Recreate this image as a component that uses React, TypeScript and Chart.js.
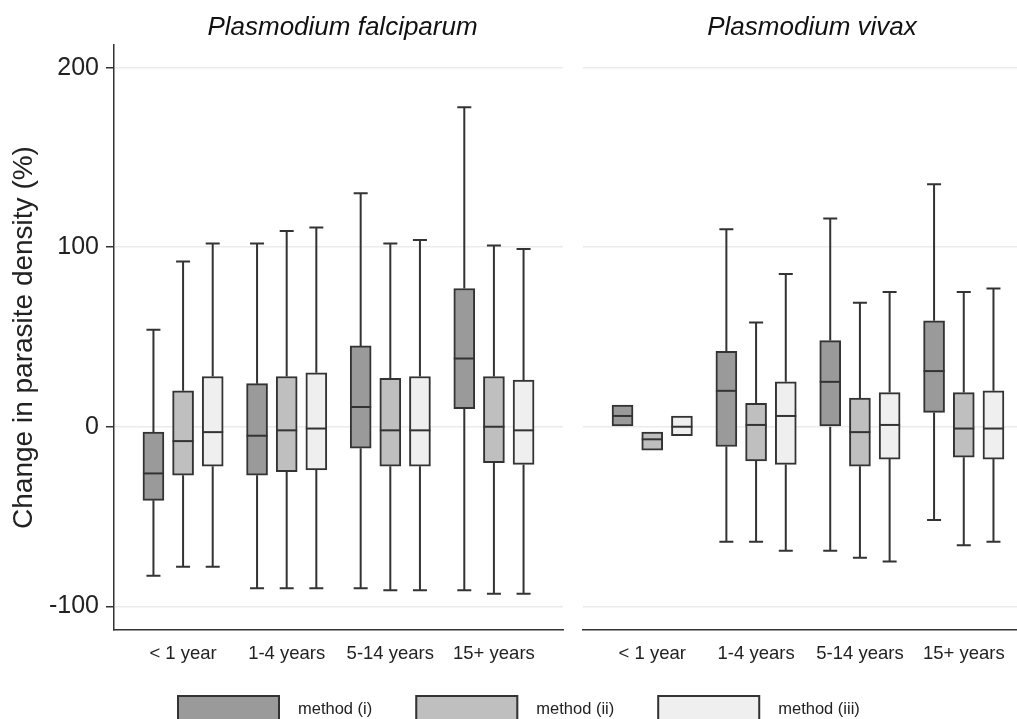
import React, { useEffect, useRef } from "react";
import { Chart, registerables } from "chart.js";

Chart.register(...registerables);

// ---------- data ----------
const categories = ["< 1 year", "1-4 years", "5-14 years", "15+ years"];
const methodLabels = ["method (i)", "method (ii)", "method (iii)"];
const methodFills = ["#9a9a9a", "#bfbfbf", "#efefef"];
const panelTitles = ["Plasmodium falciparum", "Plasmodium vivax"];
const yTickValues = [-100, 0, 100, 200];
const methodOffsets = [-0.286, 0, 0.286];

// Plasmodium falciparum: rows = method (i), (ii), (iii); columns = age groups
const pfLow = [
  [-83, -90, -90, -91],
  [-78, -90, -91, -93],
  [-78, -90, -91, -93],
];
const pfQ1 = [
  [-41, -27, -12, 10],
  [-27, -25, -22, -20],
  [-22, -24, -22, -21],
];
const pfMedian = [
  [-26, -5, 11, 38],
  [-8, -2, -2, 0],
  [-3, -1, -2, -2],
];
const pfQ3 = [
  [-3, 24, 45, 77],
  [20, 28, 27, 28],
  [28, 30, 28, 26],
];
const pfHigh = [
  [54, 102, 130, 178],
  [92, 109, 102, 101],
  [102, 111, 104, 99],
];

// Plasmodium vivax
const pvLow = [
  [0, -64, -69, -52],
  [-13, -64, -73, -66],
  [-5, -69, -75, -64],
];
const pvQ1 = [
  [0, -11, 0, 8],
  [-13, -19, -22, -17],
  [-5, -21, -18, -18],
];
const pvMedian = [
  [6, 20, 25, 31],
  [-7, 1, -3, -1],
  [0, 6, 1, -1],
];
const pvQ3 = [
  [12, 42, 48, 59],
  [-3, 13, 16, 19],
  [6, 25, 19, 20],
];
const pvHigh = [
  [12, 110, 116, 135],
  [-3, 58, 69, 75],
  [6, 85, 75, 77],
];

const Y_MIN = -113.2;
const Y_MAX = 212.6;
const X_MIN = 1 / 3;
const X_MAX = categories.length + 2 / 3;

const FONT = "'Liberation Sans', Arial, Helvetica, sans-serif";
const INK = "#333333";

Chart.defaults.font.family = FONT;
Chart.defaults.color = "#222222";

type Panel = {
  title: string;
  low: number[][];
  q1: number[][];
  median: number[][];
  q3: number[][];
  high: number[][];
};

const panels: Panel[] = [
  { title: panelTitles[0], low: pfLow, q1: pfQ1, median: pfMedian, q3: pfQ3, high: pfHigh },
  { title: panelTitles[1], low: pvLow, q1: pvQ1, median: pvMedian, q3: pvQ3, high: pvHigh },
];

function makeDatasets(p: Panel) {
  return methodLabels.map((label, di) => ({
    label,
    data: categories.map((_, ci) => ({
      x: ci + 1 + methodOffsets[di],
      y: [p.q1[di][ci], p.q3[di][ci]],
    })),
    backgroundColor: methodFills[di],
    borderColor: INK,
    borderWidth: 2,
    borderSkipped: false,
    grouped: false,
    barPercentage: 1,
    categoryPercentage: 1,
    maxBarThickness: 21,
  }));
}

function makeBoxPlugin(p: Panel) {
  return {
    id: "boxWhiskers",
    beforeDatasetsDraw(chart: any) {
      const ctx = chart.ctx;
      const ys = chart.scales.y;
      chart.data.datasets.forEach((_: any, di: number) => {
        const meta = chart.getDatasetMeta(di);
        meta.data.forEach((bar: any, ci: number) => {
          const lo = p.low[di][ci];
          const hi = p.high[di][ci];
          const q1 = p.q1[di][ci];
          const q3 = p.q3[di][ci];
          const cap = bar.width / 3;
          ctx.save();
          ctx.strokeStyle = INK;
          ctx.lineWidth = 2;
          ctx.beginPath();
          if (hi > q3) {
            const yh = ys.getPixelForValue(hi);
            ctx.moveTo(bar.x, ys.getPixelForValue(q3));
            ctx.lineTo(bar.x, yh);
            ctx.moveTo(bar.x - cap, yh);
            ctx.lineTo(bar.x + cap, yh);
          }
          if (lo < q1) {
            const yl = ys.getPixelForValue(lo);
            ctx.moveTo(bar.x, ys.getPixelForValue(q1));
            ctx.lineTo(bar.x, yl);
            ctx.moveTo(bar.x - cap, yl);
            ctx.lineTo(bar.x + cap, yl);
          }
          ctx.stroke();
          ctx.restore();
        });
      });
    },
    afterDatasetsDraw(chart: any) {
      const ctx = chart.ctx;
      const ys = chart.scales.y;
      chart.data.datasets.forEach((_: any, di: number) => {
        const meta = chart.getDatasetMeta(di);
        meta.data.forEach((bar: any, ci: number) => {
          const ym = ys.getPixelForValue(p.median[di][ci]);
          ctx.save();
          ctx.strokeStyle = INK;
          ctx.lineWidth = 2;
          ctx.beginPath();
          ctx.moveTo(bar.x - bar.width / 2, ym);
          ctx.lineTo(bar.x + bar.width / 2, ym);
          ctx.stroke();
          ctx.restore();
        });
      });
    },
    afterDraw(chart: any) {
      const ctx = chart.ctx;
      const a = chart.chartArea;
      ctx.save();
      ctx.fillStyle = "#111111";
      ctx.font = `italic 26px ${FONT}`;
      ctx.textAlign = "center";
      ctx.textBaseline = "middle";
      ctx.fillText(p.title, (a.left + a.right) / 2 + 4, 28);
      ctx.restore();
    },
  };
}

const legendPlugin = {
  id: "bottomLegend",
  afterDraw(chart: any) {
    const ctx = chart.ctx;
    let x = 177;
    const top = 695;
    const boxW = 103;
    const boxH = 32;
    ctx.save();
    ctx.font = `16.5px ${FONT}`;
    ctx.textBaseline = "middle";
    ctx.textAlign = "left";
    chart.data.datasets.forEach((ds: any) => {
      ctx.fillStyle = ds.backgroundColor;
      ctx.fillRect(x, top, boxW, boxH);
      ctx.strokeStyle = INK;
      ctx.lineWidth = 2;
      ctx.strokeRect(x + 1, top + 1, boxW - 2, boxH);
      const tx = x + boxW + 18;
      ctx.fillStyle = "#222222";
      ctx.fillText(ds.label, tx, 709);
      x = tx + ctx.measureText(ds.label).width + 43;
    });
    ctx.restore();
  },
};

function makeOptions(isLeft: boolean, padding: any) {
  const tickPositions = categories.map((_, i) => i + 1);
  return {
    responsive: false,
    animation: false as const,
    devicePixelRatio: 1,
    layout: { padding },
    plugins: {
      legend: { display: false },
      tooltip: { enabled: false },
      title: { display: false },
    },
    scales: {
      x: {
        type: "linear" as const,
        min: X_MIN,
        max: X_MAX,
        offset: false,
        grid: { display: false, offset: false },
        border: { display: true, color: INK, width: 1.5 },
        afterBuildTicks: (scale: any) => {
          scale.ticks = tickPositions.map((v) => ({ value: v }));
        },
        afterFit: (scale: any) => {
          scale.height = 40;
        },
        ticks: {
          autoSkip: false,
          maxRotation: 0,
          padding: 5,
          color: "#222222",
          font: { size: 18.5, family: FONT },
          callback: (v: any) => categories[Math.round(Number(v)) - 1] ?? "",
        },
      },
      y: {
        type: "linear" as const,
        min: Y_MIN,
        max: Y_MAX,
        afterBuildTicks: (scale: any) => {
          scale.ticks = yTickValues.map((v) => ({ value: v }));
        },
        afterFit: (scale: any) => {
          scale.width = isLeft ? 114 : 0;
        },
        grid: {
          color: "#ebebeb",
          lineWidth: 1.5,
          drawTicks: isLeft,
          tickLength: 8,
          tickColor: INK,
          tickWidth: 1.5,
        },
        border: { display: isLeft, color: INK, width: 1.5 },
        ticks: {
          display: isLeft,
          padding: 7,
          color: "#222222",
          font: { size: 25, family: FONT },
          callback: (v: any) => String(v),
        },
        title: {
          display: isLeft,
          text: "Change in parasite density (%)",
          color: "#222222",
          font: { size: 28, family: FONT },
          padding: 7,
        },
      },
    },
  };
}

export default function App() {
  const leftRef = useRef<HTMLCanvasElement | null>(null);
  const rightRef = useRef<HTMLCanvasElement | null>(null);

  useEffect(() => {
    const charts: Chart[] = [];
    if (leftRef.current) {
      charts.push(
        new Chart(leftRef.current, {
          type: "bar",
          data: { datasets: makeDatasets(panels[0]) as any },
          options: makeOptions(true, { left: 0, right: 1017 - 563, top: 45, bottom: 49 }) as any,
          plugins: [makeBoxPlugin(panels[0]), legendPlugin],
        })
      );
    }
    if (rightRef.current) {
      charts.push(
        new Chart(rightRef.current, {
          type: "bar",
          data: { datasets: makeDatasets(panels[1]) as any },
          options: makeOptions(false, { left: 13, right: 9, top: 45, bottom: 49 }) as any,
          plugins: [makeBoxPlugin(panels[1])],
        })
      );
    }
    return () => charts.forEach((c) => c.destroy());
  }, []);

  return (
    <div
      style={{
        position: "absolute",
        left: 0,
        top: 0,
        width: 1017,
        height: 719,
        overflow: "hidden",
        background: "#ffffff",
      }}
    >
      <canvas
        ref={leftRef}
        width={1017}
        height={719}
        style={{ position: "absolute", left: 0, top: 0, width: 1017, height: 719 }}
      />
      <canvas
        ref={rightRef}
        width={472}
        height={719}
        style={{ position: "absolute", left: 570, top: 0, width: 472, height: 719 }}
      />
    </div>
  );
}
